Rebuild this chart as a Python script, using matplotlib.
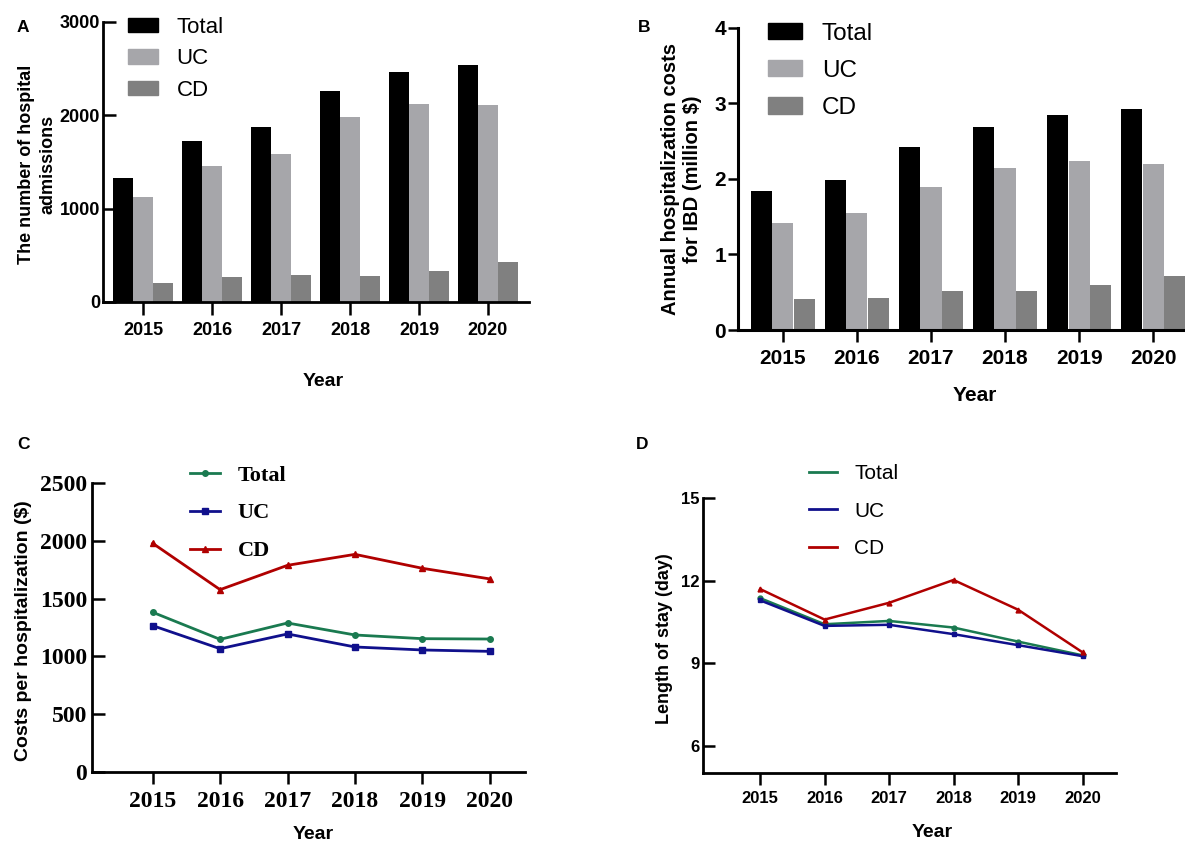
import matplotlib
matplotlib.use("Agg")

import matplotlib.pyplot as plt
from matplotlib.patches import Patch
from matplotlib.lines import Line2D

years = ["2015", "2016", "2017", "2018", "2019", "2020"]

# A: number of hospital admissions
adm_total = [1332, 1721, 1877, 2262, 2462, 2536]
adm_uc = [1126, 1453, 1582, 1977, 2123, 2105]
adm_cd = [203, 267, 292, 278, 328, 427]

# B: annual hospitalization costs (million $)
cost_total = [1.84, 1.98, 2.42, 2.68, 2.84, 2.92]
cost_uc = [1.42, 1.55, 1.89, 2.14, 2.24, 2.20]
cost_cd = [0.41, 0.42, 0.52, 0.52, 0.59, 0.71]

# C: costs per hospitalization ($)
per_total = [1382, 1147, 1289, 1185, 1153, 1150]
per_uc = [1266, 1066, 1194, 1081, 1055, 1043]
per_cd = [1980, 1578, 1789, 1884, 1763, 1671]

# D: length of stay (day)
los_total = [11.37, 10.42, 10.54, 10.30, 9.79, 9.29]
los_uc = [11.29, 10.36, 10.40, 10.06, 9.66, 9.26]
los_cd = [11.70, 10.59, 11.20, 12.03, 10.95, 9.40]

series = ["Total", "UC", "CD"]
bar_colors = ["#000000", "#a6a6aa", "#808080"]
line_colors = ["#1a7a50", "#10108c", "#b00000"]

SANS = "Liberation Sans"
SERIF = "Liberation Serif"
plt.rcParams["font.family"] = SANS

fig = plt.figure(figsize=(11.85, 8.43), dpi=100)
x = list(range(len(years)))


def style_axes(ax, ydir="in", ylen=9.4, xlen=9.4, ypad=2.4, xpad=5, lw=2.0):
    for s in ["top", "right"]:
        ax.spines[s].set_visible(False)
    for s in ["left", "bottom"]:
        ax.spines[s].set_linewidth(lw)
    ax.tick_params(axis="y", direction=ydir, length=ylen, width=1.8, pad=ypad)
    ax.tick_params(axis="x", direction="out", length=xlen, width=1.8, pad=xpad)


def bar_panel(ax, vals, width=0.29, step=0.29):
    for i, (v, c) in enumerate(zip(vals, bar_colors)):
        pos = [xi + (i - 1) * step for xi in x]
        ax.bar(pos, v, width=width, color=c, label=series[i])


def bold_ticks(ax, size, family=SANS):
    for lab in ax.get_xticklabels() + ax.get_yticklabels():
        lab.set_fontweight("bold")
        lab.set_fontsize(size)
        lab.set_family(family)


# ---- Panel A ----
axA = fig.add_axes([0.0872, 0.6418, 0.3592, 0.3325])
bar_panel(axA, [adm_total, adm_uc, adm_cd])
axA.set_xlim(-0.58, 5.595)
axA.set_ylim(0, 3000)
axA.set_yticks([0, 1000, 2000, 3000])
axA.set_xticks(x)
axA.set_xticklabels(years)
style_axes(axA, ydir="in", ypad=2.4, xpad=5)
bold_ticks(axA, 13)
axA.set_ylabel("The number of hospital\nadmissions", fontsize=13, fontweight="bold",
               linespacing=1.35)
axA.yaxis.set_label_coords(-0.109, 0.49)
axA.set_xlabel("Year", fontsize=14, fontweight="bold")
axA.xaxis.set_label_coords(0.516, -0.253)
fig.legend(handles=[Patch(color=c, label=s) for c, s in zip(bar_colors, series)],
           loc="upper left", bbox_to_anchor=(0.108, 0.980), frameon=False,
           fontsize=16, handlelength=1.35, handleheight=0.6, handletextpad=0.84,
           labelspacing=0.47, borderpad=0, borderaxespad=0)

# ---- Panel B ----
axB = fig.add_axes([0.6228, 0.6085, 0.3772, 0.3586])
bar_panel(axB, [cost_total, cost_uc, cost_cd], width=0.285)
axB.set_xlim(-0.605, 5.43)
axB.set_ylim(0, 4)
axB.set_yticks([0, 1, 2, 3, 4])
axB.set_xticks(x)
axB.set_xticklabels(years)
style_axes(axB, ydir="out", ylen=7, xlen=8.6, ypad=1.5, xpad=5, lw=2.2)
bold_ticks(axB, 15)
axB.set_ylabel("Annual hospitalization costs\nfor IBD (million $)", fontsize=14.5,
               fontweight="bold", linespacing=1.2)
axB.yaxis.set_label_coords(-0.081, 0.50)
axB.set_xlabel("Year", fontsize=15, fontweight="bold")
axB.xaxis.set_label_coords(0.53, -0.185)
fig.legend(handles=[Patch(color=c, label=s) for c, s in zip(bar_colors, series)],
           loc="upper left", bbox_to_anchor=(0.648, 0.973), frameon=False,
           fontsize=17.5, handlelength=1.4, handleheight=0.66, handletextpad=0.82,
           labelspacing=0.62, borderpad=0, borderaxespad=0)

# ---- Panel C ----
axC = fig.add_axes([0.0776, 0.0846, 0.3654, 0.3421])
markers = ["o", "s", "^"]
for vals, c, m, s in zip([per_total, per_uc, per_cd], line_colors, markers, series):
    axC.plot(x, vals, color=c, lw=2.0, marker=m, markersize=4, label=s)
axC.set_xlim(-0.90, 5.52)
axC.set_ylim(0, 2500)
axC.set_yticks([0, 500, 1000, 1500, 2000, 2500])
axC.set_xticks(x)
axC.set_xticklabels(years)
style_axes(axC, ydir="in", ylen=9.4, xlen=8.6, ypad=3.4, xpad=5)
bold_ticks(axC, 17, SERIF)
axC.set_ylabel("Costs per hospitalization ($)", fontsize=14, fontweight="bold")
axC.yaxis.set_label_coords(-0.139, 0.49)
axC.set_xlabel("Year", fontsize=14, fontweight="bold")
axC.xaxis.set_label_coords(0.51, -0.19)
fig.legend(handles=[Line2D([], [], color=c, lw=2.0, marker=m, markersize=4, label=s)
                    for c, m, s in zip(line_colors, markers, series)],
           loc="upper left", bbox_to_anchor=(0.1603, 0.4484), frameon=False,
           prop={"family": SERIF, "weight": "bold", "size": 16},
           handlelength=1.35, handletextpad=0.8, labelspacing=0.78,
           borderpad=0, borderaxespad=0)

# ---- Panel D ----
axD = fig.add_axes([0.593, 0.0827, 0.3488, 0.3262])
for vals, c, m, s in zip([los_total, los_uc, los_cd], line_colors, markers, series):
    axD.plot(x, vals, color=c, lw=1.8, marker=m, markersize=3.5, label=s)
axD.set_xlim(-0.89, 5.52)
axD.set_ylim(5, 15)
axD.set_yticks([6, 9, 12, 15])
axD.set_xticks(x)
axD.set_xticklabels(years)
style_axes(axD, ydir="in", ylen=8.6, xlen=8.6, ypad=2.2, xpad=4.5)
bold_ticks(axD, 12)
axD.set_ylabel("Length of stay (day)", fontsize=13, fontweight="bold")
axD.yaxis.set_label_coords(-0.072, 0.49)
axD.set_xlabel("Year", fontsize=14, fontweight="bold")
axD.xaxis.set_label_coords(0.555, -0.185)
fig.legend(handles=[Line2D([], [], color=c, lw=2.0, label=s) for c, s in zip(line_colors, series)],
           loc="upper left", bbox_to_anchor=(0.683, 0.4496), frameon=False,
           fontsize=15, handlelength=1.35, handletextpad=0.8, labelspacing=0.89,
           borderpad=0, borderaxespad=0)

# panel letters
for letter, (px, py) in zip("ABCD", [(23, 28), (644, 28), (23, 445), (642, 445)]):
    fig.text(px / 1185, 1 - py / 843, letter, fontsize=12.5, fontweight="bold",
             ha="center", va="center")

fig.savefig("out.png", dpi=100)
